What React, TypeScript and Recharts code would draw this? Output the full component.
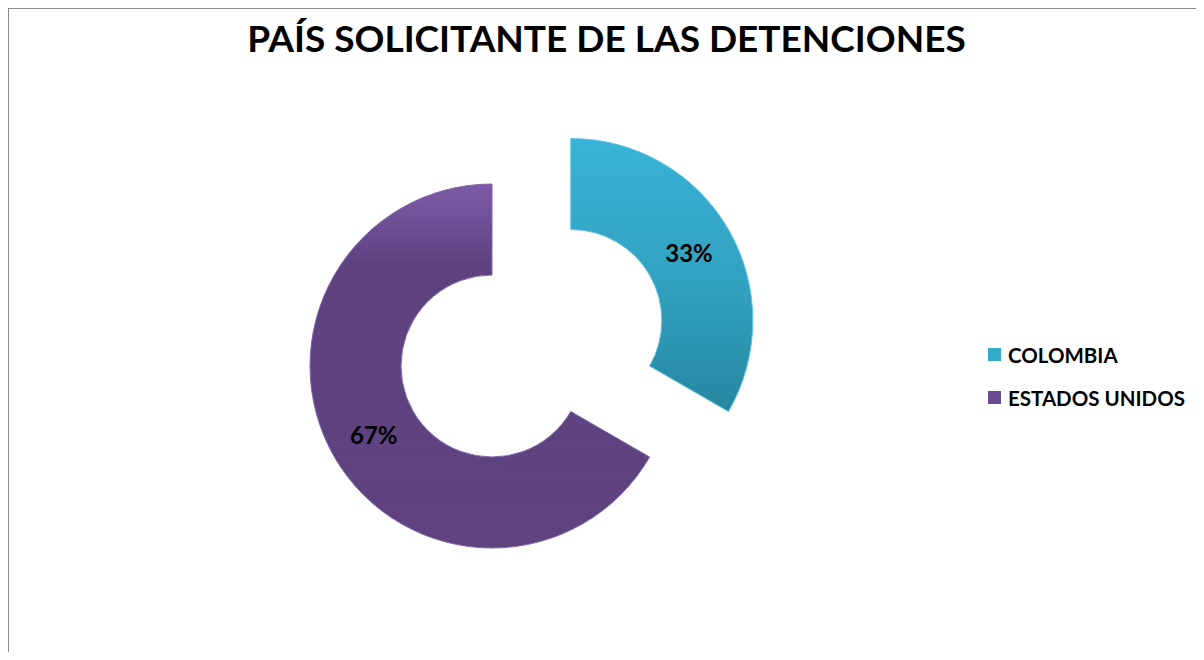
import { PieChart, Pie, Cell, Legend } from "recharts";

/* ── Data ── */

const PAISES = ["COLOMBIA", "ESTADOS UNIDOS"];
const DETENCIONES = [1, 2];

const GRADIENT_IDS = ["gradColombia", "gradEEUU"];
const SWATCH = ["#35AACB", "#6A4C92"];
const EDGE = ["#5CC4E2", "#8266AA"];

const data = PAISES.map((pais, i) => ({ name: pais, value: DETENCIONES[i] }));

/* ── Layout ── */

const W = 1195;
const H = 643;
const FONT = "Lato, 'Open Sans', sans-serif";
const RAD = Math.PI / 180;

// the exploded slice (index 0) is drawn by its own Pie, pushed out along its mid angle
const CENTER = { x: 483, y: 357 };
const EXPLODE = 91;
const INNER = 91;
const OUTER = 182;

const total = DETENCIONES.reduce((a, b) => a + b, 0);
const midAngle0 = 90 - ((DETENCIONES[0] / total) * 360) / 2;
const EXPLODED = {
  x: CENTER.x + EXPLODE * Math.cos(midAngle0 * RAD),
  y: CENTER.y - EXPLODE * Math.sin(midAngle0 * RAD),
};

function makeLabel(show: number) {
  // eslint-disable-next-line @typescript-eslint/no-explicit-any
  return (props: any) => {
    if (props.index !== show) return null;
    const r = (props.innerRadius + props.outerRadius) / 2;
    const x = props.cx + r * Math.cos(-props.midAngle * RAD);
    const y = props.cy + r * Math.sin(-props.midAngle * RAD);
    return (
      <text
        x={x}
        y={y}
        textAnchor="middle"
        dominantBaseline="central"
        fill="#000"
        style={{ fontFamily: FONT, fontWeight: 700, fontSize: 24 }}
      >
        {`${Math.round(props.percent * 100)}%`}
      </text>
    );
  };
}

function LegendBox() {
  return (
    <div style={{ fontFamily: FONT, fontWeight: 700, fontSize: 20.5, color: "#000" }}>
      {PAISES.map((p, i) => (
        <div key={p} style={{ display: "flex", alignItems: "center", height: 43 }}>
          <span
            style={{
              display: "inline-block",
              width: 13,
              height: 13,
              marginRight: 7,
              background: SWATCH[i],
            }}
          />
          {p}
        </div>
      ))}
    </div>
  );
}

export default function App() {
  return (
    <div
      style={{
        position: "relative",
        width: W,
        height: H,
        background: "#fff",
        borderTop: "1px solid #8c8c8c",
        borderLeft: "1px solid #8c8c8c",
      }}
    >
      <div
        style={{
          position: "absolute",
          top: 10,
          left: 0,
          width: W,
          textAlign: "center",
          fontFamily: FONT,
          fontWeight: 700,
          fontSize: 37,
          lineHeight: "37px",
          color: "#000",
        }}
      >
        PAÍS SOLICITANTE DE LAS DETENCIONES
      </div>
      <PieChart width={W} height={H} margin={{ top: 0, right: 0, bottom: 0, left: 0 }}>
        <defs>
          <linearGradient id="gradColombia" x1="0" y1="0" x2="0" y2="1">
            <stop offset="0%" stopColor="#39B3D7" />
            <stop offset="55%" stopColor="#31A0BF" />
            <stop offset="100%" stopColor="#27879F" />
          </linearGradient>
          <linearGradient id="gradEEUU" x1="0" y1="0" x2="0" y2="1">
            <stop offset="0%" stopColor="#7D5BA8" />
            <stop offset="22%" stopColor="#5E427F" />
            <stop offset="100%" stopColor="#5F427F" />
          </linearGradient>
        </defs>
        <Pie
          data={data}
          dataKey="value"
          nameKey="name"
          cx={EXPLODED.x}
          cy={EXPLODED.y}
          innerRadius={INNER}
          outerRadius={OUTER}
          startAngle={90}
          endAngle={-270}
          legendType="none"
          labelLine={false}
          label={makeLabel(0)}
          isAnimationActive={false}
        >
          {data.map((_, i) => (
            <Cell
              key={i}
              fill={i === 0 ? `url(#${GRADIENT_IDS[i]})` : "none"}
              stroke={i === 0 ? EDGE[i] : "none"}
              strokeWidth={1}
            />
          ))}
        </Pie>
        <Pie
          data={data}
          dataKey="value"
          nameKey="name"
          cx={CENTER.x}
          cy={CENTER.y}
          innerRadius={INNER}
          outerRadius={OUTER}
          startAngle={90}
          endAngle={-270}
          labelLine={false}
          label={makeLabel(1)}
          isAnimationActive={false}
        >
          {data.map((_, i) => (
            <Cell
              key={i}
              fill={i === 1 ? `url(#${GRADIENT_IDS[i]})` : "none"}
              stroke={i === 1 ? EDGE[i] : "none"}
              strokeWidth={1}
            />
          ))}
        </Pie>
        <Legend
          content={() => <LegendBox />}
          wrapperStyle={{ position: "absolute", left: 979, top: 324, width: 220 }}
        />
      </PieChart>
    </div>
  );
}
